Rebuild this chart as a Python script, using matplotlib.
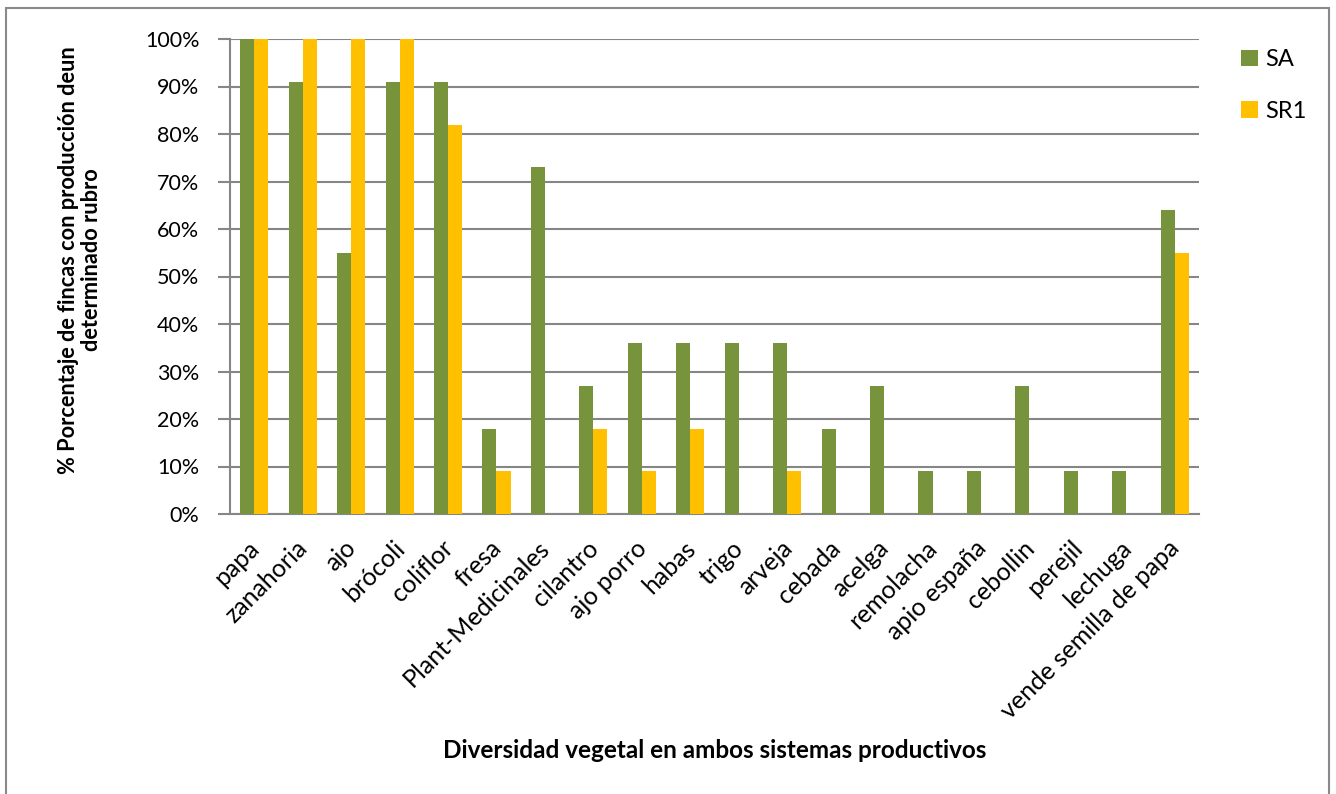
import matplotlib.pyplot as plt
import matplotlib.patches as mpatches
import matplotlib.transforms as mtransforms
import numpy as np

plt.rcParams['font.family'] = ['Lato', 'DejaVu Sans']

categories = ['papa', 'zanahoria', 'ajo', 'brócoli', 'coliflor', 'fresa',
              'Plant-Medicinales', 'cilantro', 'ajo porro', 'habas', 'trigo',
              'arveja', 'cebada', 'acelga', 'remolacha', 'apio españa',
              'cebollin', 'perejil', 'lechuga', 'vende semilla de papa']
sa = [100, 91, 55, 91, 91, 18, 73, 27, 36, 36, 36, 36, 18, 27, 9, 9, 27, 9, 9, 64]
sr1 = [100, 100, 100, 100, 82, 9, 0, 18, 9, 18, 0, 9, 0, 0, 0, 0, 0, 0, 0, 55]
yticks = np.arange(0, 101, 10)

green = '#77933C'
yellow = '#FFC000'
grid_c = '#868686'

W, H = 1336, 794
fig = plt.figure(figsize=(W / 100, H / 100), dpi=100)
ax = fig.add_axes([230 / W, 1 - 514 / H, (1199 - 230) / W, (514 - 39) / H])

x = np.arange(len(categories))
bw = 0.29
ax.bar(x - bw / 2, sa, bw, color=green, label='SA', zorder=3)
ax.bar(x + bw / 2, sr1, bw, color=yellow, label='SR1', zorder=3)

ax.set_xlim(-0.5, len(categories) - 0.5)
ax.set_ylim(0, 100)
ax.set_yticks(yticks)
ax.set_yticklabels([f'{v}%' for v in yticks], fontsize=15.5)
ax.yaxis.grid(True, color=grid_c, linewidth=1.5, zorder=0)
ax.tick_params(axis='y', length=9, width=1.5, color=grid_c, pad=13)
ax.tick_params(axis='x', length=0, pad=16)
ax.set_xticks(x)
ax.set_xticklabels(categories, rotation=45, ha='right', va='top',
                   rotation_mode='anchor', fontsize=18)
shift = mtransforms.ScaledTranslation(-0.07, 0, fig.dpi_scale_trans)
for lbl in ax.get_xticklabels():
    lbl.set_transform(lbl.get_transform() + shift)

for s in ['top', 'right']:
    ax.spines[s].set_visible(False)
for s in ['left', 'bottom']:
    ax.spines[s].set_color(grid_c)
    ax.spines[s].set_linewidth(1.5)

ax.set_ylabel('% Porcentaje de fincas con producción deun\ndeterminado rubro',
              fontsize=15.7, fontweight='bold', linespacing=1.15)
ax.yaxis.set_label_coords(-0.132, 0.535)
fig.text(715 / W, 1 - 750 / H, 'Diversidad vegetal en ambos sistemas productivos',
         ha='center', va='center', fontsize=17.5, fontweight='bold')

ax.legend(loc='upper left', bbox_to_anchor=(1220 / W, 1 - 28 / H),
          bbox_transform=fig.transFigure, frameon=False, fontsize=17,
          handlelength=0.7, handleheight=0.7, handletextpad=0.3,
          labelspacing=1.3)

fig.patches.append(mpatches.Rectangle((6 / W, -0.05), (1329 - 6) / W, 1.05 - 8 / H,
                                      transform=fig.transFigure, fill=False,
                                      edgecolor='#898989', linewidth=1.5))

fig.savefig('out.png', dpi=100)
